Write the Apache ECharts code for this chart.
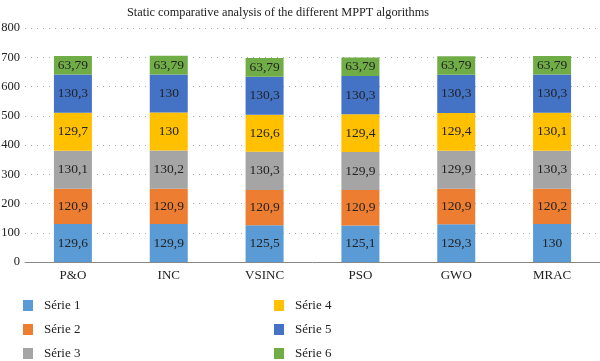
<!DOCTYPE html>
<html><head><meta charset="utf-8">
<script src="https://cdn.jsdelivr.net/npm/echarts@6/dist/echarts.min.js"></script>
<style>html,body{margin:0;padding:0;background:#fff}#c{width:600px;height:361px}</style>
</head><body><div id="c"></div>
<script>
var categories = ['P&O','INC','VSINC','PSO','GWO','MRAC'];
var serie1 = [129.6,129.9,125.5,125.1,129.3,130];
var serie2 = [120.9,120.9,120.9,120.9,120.9,120.2];
var serie3 = [130.1,130.2,130.3,129.9,129.9,130.3];
var serie4 = [129.7,130,126.6,129.4,129.4,130.1];
var serie5 = [130.3,130,130.3,130.3,130.3,130.3];
var serie6 = [63.79,63.79,63.79,63.79,63.79,63.79];
var seriesNames = ['Série 1','Série 2','Série 3','Série 4','Série 5','Série 6'];
var colors = ['#5B9BD5','#ED7D31','#A5A5A5','#FFC000','#4472C4','#70AD47'];
var allData = [serie1,serie2,serie3,serie4,serie5,serie6];
var font = '"Liberation Serif", "DejaVu Serif", serif';
var chart = echarts.init(document.getElementById('c'));
var legendBase = {orient:'vertical',top:294,height:80,itemWidth:10,itemHeight:11,itemGap:11,icon:'rect',
     textStyle:{fontFamily:font,fontSize:13,color:'#222',padding:[0,0,0,6]}};
chart.setOption({
  animation:false,
  color: colors,
  title:{text:'Static comparative analysis of the different MPPT algorithms',left:122,top:2,
    textStyle:{fontFamily:font,fontSize:12.3,fontWeight:'normal',color:'#222'}},
  grid:{left:25,right:0,top:28,bottom:99,containLabel:false,outerBoundsMode:'none'},
  legend:[
    Object.assign({data:seriesNames.slice(0,3),left:18}, legendBase),
    Object.assign({data:seriesNames.slice(3),left:269}, legendBase)
  ],
  xAxis:{type:'category',data:categories,
    axisLine:{lineStyle:{color:'#888',width:1}},axisTick:{show:false},
    axisLabel:{fontFamily:font,fontSize:13,color:'#222',margin:7}},
  yAxis:{type:'value',min:0,max:800,interval:100,
    axisLine:{show:false},axisTick:{show:false},
    axisLabel:{fontFamily:font,fontSize:12.5,color:'#222',margin:5}},
  series: allData.map(function(d,i){
    return {name:seriesNames[i],type:'bar',stack:'total',data:d,barWidth:38,
      itemStyle:{color:colors[i]},
      label:{show:true,position:'inside',fontFamily:font,fontSize:13.5,color:'#222',
        formatter:function(p){return String(p.value).replace('.',',');}}};
  })
});
chart.setOption({yAxis:{splitLine:{show:true,lineStyle:{type:[1,5],color:'#aaa',width:1}}}});
</script></body></html>
